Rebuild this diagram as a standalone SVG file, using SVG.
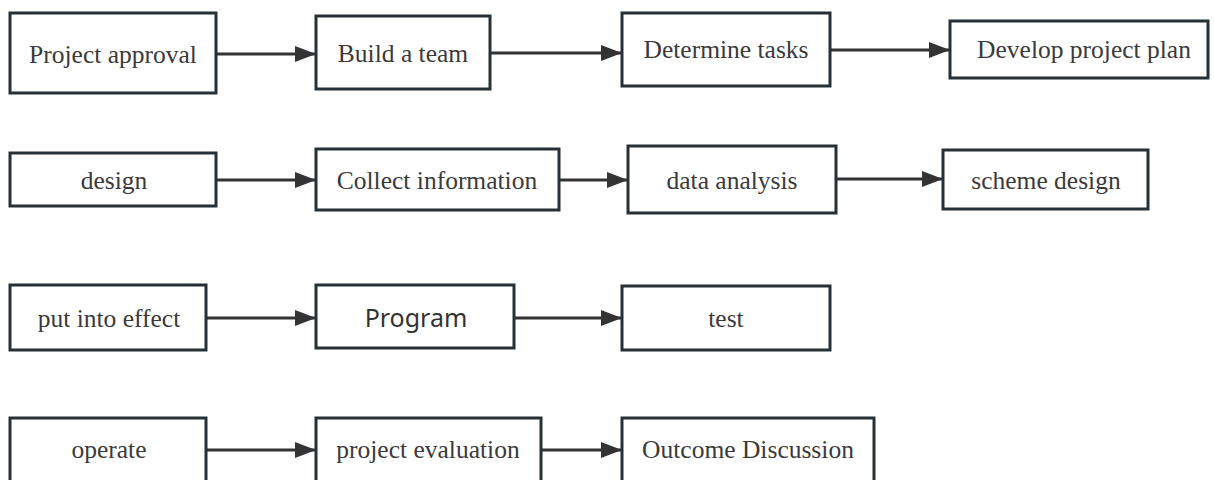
<svg xmlns="http://www.w3.org/2000/svg" width="1214" height="480" viewBox="0 0 1214 480">
  <style>
    .box { fill: #ffffff; stroke: #263036; stroke-width: 3; }
    .lbl { font-family: "Liberation Serif", "Times New Roman", serif; font-size: 25.5px; fill: #3a3a3a; text-anchor: middle; }
    .sans { font-family: "Noto Sans", "Open Sans", sans-serif; font-size: 25px; fill: #333333; text-anchor: middle; }
    .edge { stroke: #333333; stroke-width: 3; fill: none; marker-end: url(#arrow); }
  </style>
  <defs>
    <marker id="arrow" markerUnits="userSpaceOnUse" markerWidth="21" markerHeight="16" refX="21" refY="8" orient="auto">
      <path d="M0,0 L21,8 L0,16 Z" fill="#333333"/>
    </marker>
  </defs>
  <rect width="1214" height="480" fill="#ffffff"/>

  <g id="connectors">
    <!-- row 1 -->
    <line class="edge" x1="216" y1="54" x2="316" y2="54"/>
    <line class="edge" x1="490" y1="53" x2="622" y2="53"/>
    <line class="edge" x1="830" y1="50" x2="950" y2="50"/>
    <!-- row 2 -->
    <line class="edge" x1="216" y1="180" x2="316" y2="180"/>
    <line class="edge" x1="559" y1="180" x2="628" y2="180"/>
    <line class="edge" x1="836" y1="179" x2="943" y2="179"/>
    <!-- row 3 -->
    <line class="edge" x1="206" y1="318" x2="316" y2="318"/>
    <line class="edge" x1="514" y1="318" x2="622" y2="318"/>
    <!-- row 4 -->
    <line class="edge" x1="206" y1="450" x2="316" y2="450"/>
    <line class="edge" x1="541" y1="450" x2="622" y2="450"/>
  </g>

  <g id="project-approval">
    <rect class="box" x="10" y="13" width="206" height="80"/>
    <text class="lbl" x="113" y="63">Project approval</text>
  </g>
  <g id="build-team">
    <rect class="box" x="316" y="16" width="174" height="73"/>
    <text class="lbl" x="403" y="62">Build a team</text>
  </g>
  <g id="determine-tasks">
    <rect class="box" x="622" y="13" width="208" height="73"/>
    <text class="lbl" x="726" y="58">Determine tasks</text>
  </g>
  <g id="develop-plan">
    <rect class="box" x="950" y="21" width="258" height="57"/>
    <text class="lbl" x="1084" y="58">Develop project plan</text>
  </g>

  <g id="design">
    <rect class="box" x="10" y="153" width="206" height="53"/>
    <text class="lbl" x="114" y="189">design</text>
  </g>
  <g id="collect-information">
    <rect class="box" x="316" y="149" width="243" height="61"/>
    <text class="lbl" x="437" y="189">Collect information</text>
  </g>
  <g id="data-analysis">
    <rect class="box" x="628" y="146" width="208" height="67"/>
    <text class="lbl" x="732" y="189">data analysis</text>
  </g>
  <g id="scheme-design">
    <rect class="box" x="943" y="150" width="205" height="59"/>
    <text class="lbl" x="1046" y="189">scheme design</text>
  </g>

  <g id="put-into-effect">
    <rect class="box" x="10" y="285" width="196" height="65"/>
    <text class="lbl" x="109" y="327">put into effect</text>
  </g>
  <g id="program">
    <rect class="box" x="316" y="285" width="198" height="63"/>
    <text class="sans" x="416" y="327">Program</text>
  </g>
  <g id="test">
    <rect class="box" x="622" y="286" width="208" height="64"/>
    <text class="lbl" x="726" y="327">test</text>
  </g>

  <g id="operate">
    <rect class="box" x="10" y="418" width="196" height="72"/>
    <text class="lbl" x="109" y="458">operate</text>
  </g>
  <g id="project-evaluation">
    <rect class="box" x="316" y="418" width="225" height="72"/>
    <text class="lbl" x="428" y="458">project evaluation</text>
  </g>
  <g id="outcome-discussion">
    <rect class="box" x="622" y="418" width="252" height="72"/>
    <text class="lbl" x="748" y="458">Outcome Discussion</text>
  </g>
</svg>
